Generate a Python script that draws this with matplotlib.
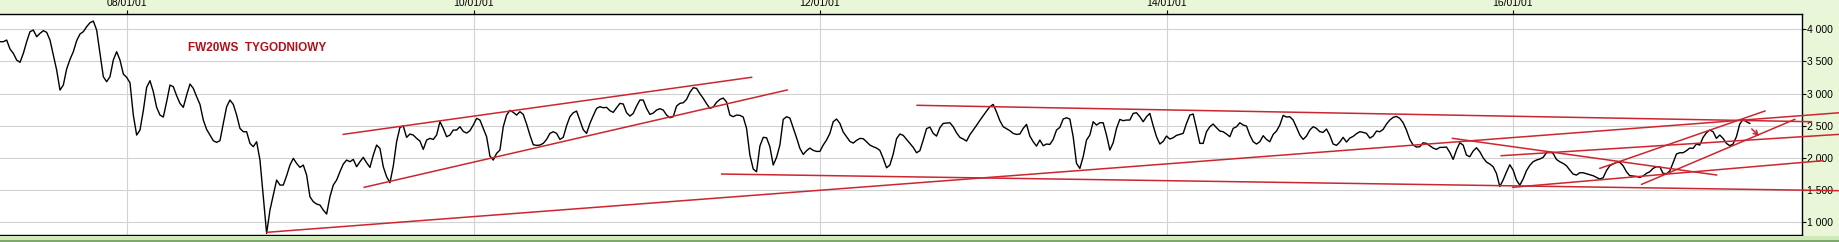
import matplotlib
matplotlib.use('Agg')
import matplotlib.pyplot as plt
import matplotlib.dates as mdates
from matplotlib.patches import Rectangle
from matplotlib.ticker import FuncFormatter
import pandas as pd

plt.rcParams['font.family'] = ['Liberation Sans', 'DejaVu Sans']

# tygodniowe zamkniecia FW20WS (kwi 2007 - maj 2017)
first_week = '2007-04-08'
last_week = '2017-05-15'
close = [
    3808, 3808, 3834, 3694, 3626, 3522, 3486, 3626, 3808, 3964,
    3990, 3886, 3938, 3980, 3954, 3834, 3600, 3366, 3054, 3132,
    3382, 3532, 3652, 3824, 3928, 3964, 4042, 4104, 4130, 3990,
    3626, 3262, 3184, 3262, 3522, 3652, 3522, 3304, 3252, 3168,
    2664, 2352, 2430, 2732, 3096, 3200, 3028, 2784, 2664, 2633,
    2872, 3132, 3106, 2966, 2846, 2784, 2976, 3148, 3080, 2950,
    2830, 2586, 2440, 2352, 2264, 2238, 2264, 2534, 2794, 2898,
    2830, 2664, 2456, 2404, 2404, 2222, 2170, 2248, 1962, 1390,
    818, 1182, 1416, 1650, 1572, 1572, 1718, 1884, 1988, 1910,
    1848, 1884, 1728, 1390, 1312, 1276, 1260, 1182, 1120, 1390,
    1572, 1650, 1780, 1900, 1962, 1936, 1972, 1858, 1936, 2004,
    1920, 1848, 2040, 2196, 2144, 1858, 1702, 1608, 1868, 2248,
    2472, 2492, 2316, 2368, 2352, 2300, 2258, 2128, 2274, 2300,
    2284, 2352, 2560, 2456, 2326, 2352, 2430, 2430, 2482,
    # 2010 - 2011
    2409, 2383, 2420, 2508, 2612, 2586, 2456, 2326, 2024, 1962,
    2066, 2118, 2482, 2664, 2737, 2706, 2664, 2716, 2674, 2524,
    2352, 2201, 2191, 2196, 2222, 2284, 2378, 2404, 2378, 2284,
    2316, 2498, 2638, 2700, 2726, 2581, 2435, 2378, 2534, 2654,
    2768, 2794, 2778, 2784, 2732, 2706, 2778, 2846, 2836, 2700,
    2648, 2690, 2804, 2898, 2898, 2768, 2674, 2695, 2742, 2763,
    2742, 2664, 2622, 2638, 2804, 2846, 2856, 2908, 3018, 3090,
    3080, 2997, 2924, 2841, 2768, 2789, 2862, 2908, 2929, 2867,
    2664, 2638, 2664, 2659, 2633, 2456, 2040, 1822, 1780, 2180,
    2316, 2310, 2170,
    # 2011 - 2013
    1884, 2004, 2196, 2596, 2638, 2617, 2466, 2310, 2144, 2050,
    2108, 2149, 2113, 2097, 2097, 2196, 2274, 2378, 2560, 2602,
    2534, 2399, 2326, 2253, 2227, 2269, 2300, 2295, 2248, 2196,
    2170, 2149, 2113, 1988, 1842, 1884, 2056, 2295, 2368, 2347,
    2284, 2222, 2160, 2076, 2108, 2274, 2451, 2477, 2378, 2336,
    2466, 2534, 2539, 2544, 2482, 2388, 2316, 2290, 2258, 2357,
    2430, 2503, 2581, 2654, 2726, 2794, 2830, 2711, 2576, 2482,
    2451, 2420, 2378, 2362, 2368, 2456, 2518, 2336, 2248, 2180,
    2274, 2186, 2212, 2206, 2284, 2430, 2472, 2602, 2622, 2602,
    2326, 1910, 1832,
    # 2013 - 2015
    2014, 2274, 2352, 2560, 2508, 2544, 2544, 2352, 2118, 2232,
    2456, 2596, 2576, 2586, 2586, 2690, 2700, 2638, 2560, 2638,
    2690, 2498, 2326, 2212, 2253, 2336, 2290, 2310, 2347, 2362,
    2378, 2534, 2664, 2680, 2456, 2222, 2222, 2404, 2482, 2524,
    2466, 2414, 2404, 2368, 2326, 2456, 2482, 2544, 2508, 2492,
    2352, 2248, 2212, 2248, 2342, 2284, 2248, 2362, 2414, 2508,
    2659, 2633, 2638, 2586, 2472, 2352, 2284, 2336, 2430, 2482,
    2456, 2404, 2394, 2446, 2347, 2212, 2191, 2243, 2316, 2243,
    2305, 2331, 2373, 2404, 2394, 2378, 2305, 2336, 2414, 2404,
    2440, 2524, 2586,
    # 2015 - 2017
    2628, 2643, 2612, 2544, 2430, 2284, 2196, 2165, 2170, 2232,
    2222, 2186, 2149, 2128, 2160, 2160, 2165, 2082, 1972, 2118,
    2232, 2196, 2040, 2014, 2102, 2154, 2092, 1998, 1931, 1900,
    1858, 1754, 1550, 1650, 1775, 1889, 1806, 1650, 1570, 1666,
    1796, 1879, 1936, 1962, 1978, 2004, 2076, 2092, 2066, 1972,
    1936, 1910, 1874, 1806, 1744, 1728, 1764, 1764, 1749, 1733,
    1718, 1692, 1666, 1686, 1796, 1874, 1900, 1926, 1926, 1874,
    1780, 1718, 1712, 1707, 1692, 1712, 1754, 1780, 1832, 1858,
    1858, 1754, 1749, 1790, 1920, 2056, 2076, 2076, 2108, 2149,
    2144, 2212, 2196, 2316, 2388, 2430, 2404, 2300, 2352, 2300,
    2222, 2186, 2212, 2326, 2524, 2596, 2560, 2534,
]

# linie trendu: (data od, wartosc od, data do, wartosc do)
trend_lines = [
    ('2009-04-01', 2363, '2011-08-10', 3253),   # gorna linia kanalu
    ('2009-05-15', 1537, '2011-10-24', 3055),   # dolna linia kanalu
    ('2008-10-22', 835, '2017-11-20', 2700),    # dlugi trend od dolka 2009
    ('2011-06-08', 1744, '2017-11-20', 1484),   # wsparcie ~1500
    ('2012-07-24', 2816, '2017-09-22', 2560),   # opor ~2600
    ('2015-08-27', 2301, '2017-03-06', 1729),
    ('2015-12-08', 2030, '2017-11-20', 2363),
    ('2016-01-01', 1537, '2017-10-16', 1952),
    ('2016-07-03', 1833, '2017-06-16', 2727),
    ('2016-09-29', 1583, '2017-08-18', 2597),
]
arrow_from = ('2017-05-15', 2477)
arrow_to = ('2017-06-08', 2306)

y_ticks = [1000, 1500, 2000, 2500, 3000, 3500, 4000]
title = 'FW20WS  TYGODNIOWY'

red = '#cc2630'
dates = pd.date_range(first_week, last_week, periods=len(close))

fig = plt.figure(figsize=(18.4, 2.42), dpi=100, facecolor='#eaf6d8')
fig.patches.append(Rectangle((0, 0), 1, 0.026, transform=fig.transFigure,
                             facecolor='#cfe9b8', edgecolor='none', zorder=0))
fig.patches.append(Rectangle((0, 0), 1, 0.009, transform=fig.transFigure,
                             facecolor='#7fa96c', edgecolor='none', zorder=0))
ax = fig.add_axes([0.0, 0.0289, 0.9793, 0.9132])
ax.set_facecolor('white')

ax.plot(dates, close, color='black', lw=1.0, zorder=3)
for d0, v0, d1, v1 in trend_lines:
    ax.plot(pd.to_datetime([d0, d1]), [v0, v1], color=red, lw=1.1,
            clip_on=False, zorder=4)
ax.annotate('', xy=(pd.Timestamp(arrow_to[0]), arrow_to[1]),
            xytext=(pd.Timestamp(arrow_from[0]), arrow_from[1]),
            arrowprops=dict(arrowstyle='->', color=red, lw=1.1,
                            mutation_scale=8), zorder=5)

ax.text(0.1425, 0.847, title, transform=ax.transAxes, ha='center',
        va='center', color='#b0101a', fontsize=8.5, fontweight='bold')

ax.set_xlim(pd.Timestamp('2007-04-08'), pd.Timestamp('2017-09-02'))
ax.set_ylim(793, 4240)
ax.xaxis.set_major_locator(mdates.YearLocator(2))
ax.xaxis.set_major_formatter(mdates.DateFormatter('%y/%m/%d'))
ax.xaxis.tick_top()
ax.yaxis.tick_right()
ax.set_yticks(y_ticks)
ax.yaxis.set_major_formatter(FuncFormatter(lambda v, p: f'{int(v):,}'.replace(',', ' ')))
ax.grid(color='#d2d2d2', lw=0.8)
ax.set_axisbelow(True)
ax.tick_params(axis='both', labelsize=7.5, length=3, width=0.8, pad=1)
ax.spines['left'].set_visible(False)
for s in ['top', 'right', 'bottom']:
    ax.spines[s].set_linewidth(1.0)

fig.savefig('out.png', dpi=100, facecolor=fig.get_facecolor())
